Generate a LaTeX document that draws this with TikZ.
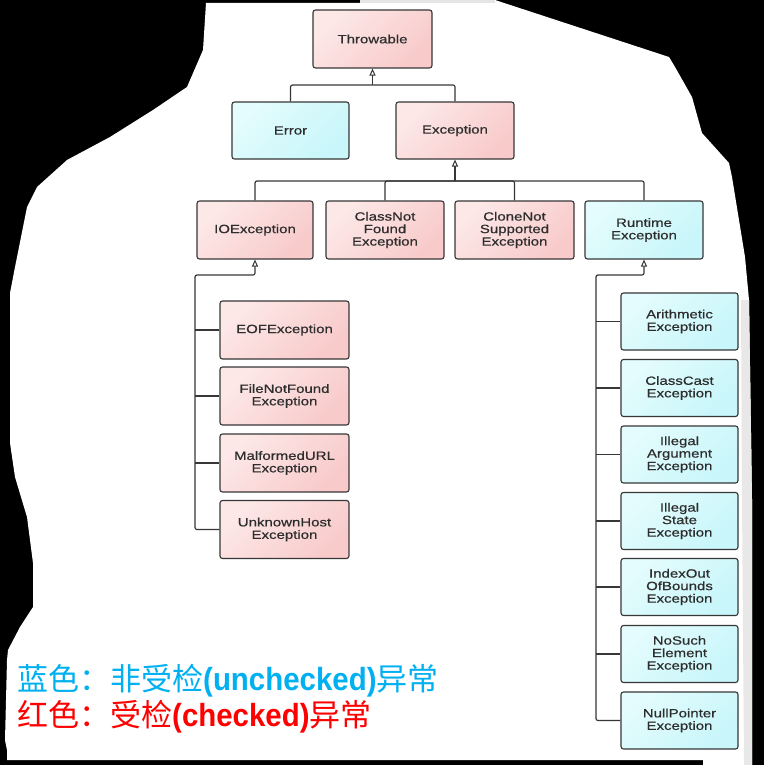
\documentclass[tikz,border=0pt]{standalone}
\usepackage{fontspec}
\usetikzlibrary{arrows.meta}
\newfontfamily\boxfont[FakeStretch=1.25,FakeBold=0.6]{Liberation Sans}
\newfontfamily\cjk{Noto Sans CJK SC}
\newfontfamily\latb[FakeStretch=0.92]{Liberation Sans}
\definecolor{pinkL}{RGB}{253,232,232}
\definecolor{pinkD}{RGB}{248,202,202}
\definecolor{cyanL}{RGB}{228,252,253}
\definecolor{cyanD}{RGB}{200,246,250}
\definecolor{boxline}{RGB}{55,55,55}
\definecolor{txt}{RGB}{45,45,45}
\definecolor{legblue}{RGB}{0,176,240}
\definecolor{legred}{RGB}{255,0,0}
\tikzset{
  box/.style={draw=boxline, line width=1.1pt, rounded corners=2.5pt,
    minimum width=117pt, minimum height=57pt, inner sep=0pt, align=center,
    text=txt, font=\boxfont\fontsize{12}{12.5}\selectfont},
  chk/.style={box, top color=pinkL, bottom color=pinkD, shading angle=45},
  unchk/.style={box, top color=cyanL, bottom color=cyanD, shading angle=45},
  conn/.style={draw=boxline, line width=1.2pt, rounded corners=2pt},
  inh/.style={conn, {Triangle[open, length=7pt, width=6pt, line width=1pt]}-},
  legend/.style={anchor=west, inner sep=0pt, font=\cjk\fontsize{31}{34}\selectfont},
  latin/.style={}
}
\begin{document}
\begin{tikzpicture}[x=1pt, y=-1pt]
\useasboundingbox (0,0) rectangle (764,765);
% background
\fill[black] (0,0) rectangle (764,765);
\fill[white] (206,3) -- (495,3) -- (495,0) -- (669,57) -- (675,67) -- (692,97) -- (702,133)
  -- (729,163) -- (732,177) -- (745,257) -- (749,300) -- (752,500) -- (752,765) -- (703,765)
  -- (703,760) -- (7,760) -- (7,750) -- (5,740) -- (7,660) -- (8,650) -- (20,627) -- (33,607)
  -- (33,563) -- (27,517) -- (15,477) -- (10,443) -- (10,293) -- (15,267) -- (27,207)
  -- (37,187) -- (67,160) -- (110,137) -- (153,110) -- (187,87) -- (203,50) -- cycle;
\fill[gray!20] (360,0) rectangle (495,3);
\fill[gray!18] (741,300) -- (749,300) -- (752,500) -- (752,765) -- (744,765) -- (742,500) -- cycle;

% nodes
\node[chk] (throwable) at (372.5,39) [minimum width=119pt, minimum height=58pt] {Throwable};
\node[unchk] (error) at (290.5,130.5) {Error};
\node[chk] (exception) at (455,130.5) [minimum width=118pt] {Exception};

\node[chk] (ioexc) at (255,230) [minimum width=116pt, minimum height=58pt] {IOException};
\node[chk] (classnf) at (385,230) [minimum width=118pt, minimum height=58pt] {ClassNot\\Found\\Exception};
\node[chk] (clone) at (514.5,230) [minimum width=119pt, minimum height=58pt] {CloneNot\\Supported\\Exception};
\node[unchk] (runtime) at (644,230) [minimum width=118pt, minimum height=58pt] {Runtime\\Exception};

\node[chk, minimum width=129pt, minimum height=58pt] (eof) at (284.5,330) {EOFException};
\node[chk, minimum width=129pt, minimum height=58pt] (fnf) at (284.5,396) {FileNotFound\\Exception};
\node[chk, minimum width=129pt, minimum height=58pt] (murl) at (284.5,463) {MalformedURL\\Exception};
\node[chk, minimum width=129pt, minimum height=58pt] (uhost) at (284.5,529.5) {UnknownHost\\Exception};

\node[unchk] (arith) at (679.5,321.5) {Arithmetic\\Exception};
\node[unchk] (ccast) at (679.5,388) {ClassCast\\Exception};
\node[unchk] (illarg) at (679.5,454.5) {Illegal\\Argument\\Exception};
\node[unchk] (illstate) at (679.5,521) {Illegal\\State\\Exception};
\node[unchk] (ioob) at (679.5,587) {IndexOut\\OfBounds\\Exception};
\node[unchk] (nse) at (679.5,654) {NoSuch\\Element\\Exception};
\node[unchk] (npe) at (679.5,720.5) {NullPointer\\Exception};

% connectors: level 1
\coordinate (j1) at (372.5,85);
\draw[conn] (error.north) |- (j1);
\draw[conn] (exception.north) |- (j1);
\draw[inh] (throwable.south) -- (j1);

% level 2
\coordinate (j2) at (455,181);
\draw[conn] (ioexc.north) |- (j2);
\draw[conn] (classnf.north) |- (j2);
\draw[conn] (clone.north) |- (j2);
\draw[conn] (runtime.north) |- (j2);
\draw[inh] (exception.south) -- (j2);

% IOException children
\coordinate (j3) at (255,275);
\coordinate (t3) at (195,275);
\draw[inh] (ioexc.south) -- (j3) -- (t3) -- (uhost.west -| t3) -- (uhost.west);
\draw[conn] (eof.west -| t3) -- (eof.west);
\draw[conn] (fnf.west -| t3) -- (fnf.west);
\draw[conn] (murl.west -| t3) -- (murl.west);

% RuntimeException children
\coordinate (j4) at (644,275);
\coordinate (t4) at (596,275);
\draw[inh] (runtime.south) -- (j4) -- (t4) -- (npe.west -| t4) -- (npe.west);
\draw[conn] (arith.west -| t4) -- (arith.west);
\draw[conn] (ccast.west -| t4) -- (ccast.west);
\draw[conn] (illarg.west -| t4) -- (illarg.west);
\draw[conn] (illstate.west -| t4) -- (illstate.west);
\draw[conn] (ioob.west -| t4) -- (ioob.west);
\draw[conn] (nse.west -| t4) -- (nse.west);

% legend
\node[legend, text=legblue] (leg1) at (17,681) {蓝色：非受检{\latb\bfseries\fontsize{32}{34}\selectfont(unchecked)}异常};
\node[legend, text=legred] (leg2) at (17,717) {红色：受检{\latb\bfseries\fontsize{32}{34}\selectfont(checked)}异常};
\end{tikzpicture}
\end{document}
